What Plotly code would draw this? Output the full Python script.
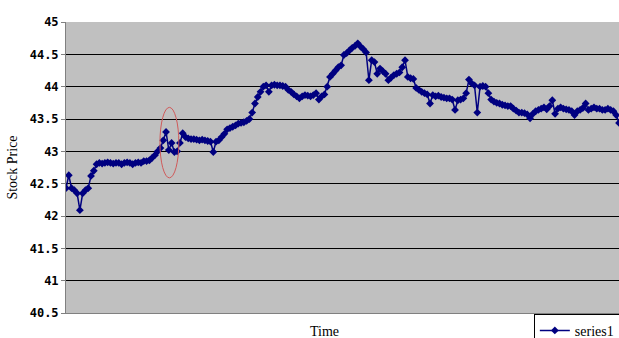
import plotly.graph_objects as go

# ---- data ----
prices = [
    42.43, 42.63, 42.43, 42.40, 42.35, 42.09, 42.35, 42.40, 42.43, 42.62,
    42.70, 42.80, 42.82, 42.81, 42.82, 42.83, 42.82, 42.81, 42.82, 42.82,
    42.80, 42.82, 42.83, 42.82, 42.80, 42.82, 42.83, 42.82, 42.85, 42.85,
    42.86, 42.90, 42.94, 43.00, 43.05, 43.17, 43.30, 43.02, 43.13, 42.99,
    43.00, 43.13, 43.28, 43.22, 43.20, 43.19, 43.19, 43.18, 43.17, 43.18,
    43.17, 43.16, 43.15, 42.99, 43.15, 43.17, 43.22, 43.27, 43.34, 43.36,
    43.38, 43.40, 43.43, 43.44, 43.45, 43.47, 43.50, 43.60, 43.74, 43.84,
    43.92, 44.00, 44.02, 43.92, 44.02, 44.03, 44.02, 44.02, 44.01, 44.00,
    43.95, 43.92, 43.88, 43.85, 43.82, 43.85, 43.87, 43.86, 43.85, 43.87,
    43.90, 43.80, 43.85, 43.88, 44.00, 44.15, 44.20, 44.25, 44.30, 44.33,
    44.49, 44.52, 44.56, 44.60, 44.63, 44.67, 44.62, 44.58, 44.53, 44.10,
    44.41, 44.38, 44.20, 44.28, 44.24, 44.20, 44.10, 44.14, 44.18, 44.20,
    44.22, 44.30, 44.41, 44.15, 44.13, 44.12, 43.98, 43.95, 43.92, 43.90,
    43.88, 43.74, 43.87, 43.85, 43.86, 43.84, 43.83, 43.82, 43.82, 43.80,
    43.64, 43.79, 43.80, 43.82, 43.90, 44.11, 44.05, 44.02, 43.60, 44.00,
    44.01, 44.00, 43.90, 43.80, 43.77, 43.75, 43.74, 43.72, 43.71, 43.70,
    43.70, 43.66, 43.63, 43.60, 43.60, 43.59, 43.57, 43.51, 43.58, 43.62,
    43.64, 43.66, 43.68, 43.65, 43.70, 43.79, 43.58, 43.66, 43.68, 43.66,
    43.65, 43.64, 43.62, 43.56, 43.62, 43.64, 43.67, 43.74, 43.64, 43.66,
    43.68, 43.66, 43.66, 43.64, 43.64, 43.66, 43.64, 43.62, 43.56, 43.44,
]
times = list(range(len(prices)))

y_ticks = [40.5, 41, 41.5, 42, 42.5, 43, 43.5, 44, 44.5, 45]
y_tick_labels = ["40.5", "41", "41.5", "42", "42.5", "43", "43.5", "44", "44.5", "45"]

# highlighted region (the red ellipse), in data units
ellipse_x = [33.8, 40.6]
ellipse_y = [42.59, 43.68]

fig = go.Figure()
fig.add_trace(go.Scatter(
    x=times, y=prices, mode="lines+markers", name="series1",
    line=dict(color="#000080", width=1.5),
    marker=dict(symbol="diamond", size=6, color="#000080"),
))

fig.add_shape(type="circle", xref="x", yref="y",
              x0=ellipse_x[0], x1=ellipse_x[1], y0=ellipse_y[0], y1=ellipse_y[1],
              line=dict(color="#d05a5a", width=1))

fig.update_layout(
    width=619, height=338,
    margin=dict(l=66, r=0, t=22, b=25, autoexpand=False),
    paper_bgcolor="white", plot_bgcolor="#c0c0c0",
    showlegend=True,
    legend=dict(x=0.846, y=-0.003, xanchor="left", yanchor="top",
                orientation="h", bgcolor="white", bordercolor="black", borderwidth=1,
                font=dict(family="Liberation Serif", size=14, color="black"),
                itemwidth=30),
    xaxis=dict(range=[0, len(prices) - 1], showgrid=False, zeroline=False,
               showticklabels=False, ticks="", showline=True, linecolor="#808080",
               linewidth=1, mirror=False),
    yaxis=dict(range=[40.5, 45], tickvals=y_ticks, ticktext=y_tick_labels,
               showgrid=True, gridcolor="#000000", gridwidth=1, zeroline=False,
               showline=True, linecolor="#808080", linewidth=1, mirror=True,
               ticks="outside", ticklen=4, tickcolor="#808080",
               tickfont=dict(family="DejaVu Sans Mono", size=12, color="black", weight="bold"),
               title=dict(text="Stock Price", standoff=8,
                          font=dict(family="Liberation Serif", size=14, color="black"))),
    annotations=[dict(text="Time", xref="paper", yref="paper", x=0.468, y=-0.065,
                      xanchor="center", yanchor="middle", showarrow=False,
                      font=dict(family="Liberation Serif", size=14, color="black"))],
)

fig.write_html("out.html", config={"displayModeBar": False},
               post_script="document.body.style.margin='0';document.body.style.padding='0';")
